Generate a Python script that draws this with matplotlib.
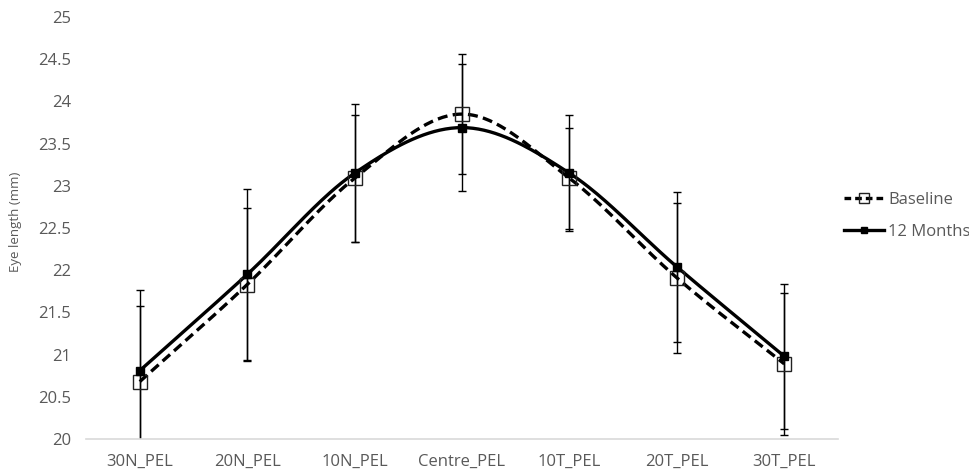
import numpy as np
import matplotlib
matplotlib.use("Agg")
import matplotlib.pyplot as plt
from matplotlib.lines import Line2D

categories = ["30N_PEL", "20N_PEL", "10N_PEL", "Centre_PEL", "10T_PEL", "20T_PEL", "30T_PEL"]
baseline = [20.68, 21.83, 23.09, 23.85, 23.09, 21.91, 20.89]
baseline_sd = [0.90, 0.91, 0.75, 0.71, 0.60, 0.89, 0.84]
months12 = [20.81, 21.95, 23.15, 23.69, 23.15, 22.04, 20.98]
months12_sd = [0.96, 1.01, 0.82, 0.75, 0.69, 0.89, 0.86]


def smooth(x, y, n=40):
    # Excel-style smoothed line (Catmull-Rom through the points)
    x = np.asarray(x, float)
    y = np.asarray(y, float)
    px = np.concatenate([[2 * x[0] - x[1]], x, [2 * x[-1] - x[-2]]])
    py = np.concatenate([[2 * y[0] - y[1]], y, [2 * y[-1] - y[-2]]])
    xs, ys = [], []
    t = np.linspace(0, 1, n)
    for i in range(1, len(px) - 2):
        for arr, out in ((px, xs), (py, ys)):
            p0, p1, p2, p3 = arr[i - 1], arr[i], arr[i + 1], arr[i + 2]
            out.extend(0.5 * ((2 * p1) + (-p0 + p2) * t
                              + (2 * p0 - 5 * p1 + 4 * p2 - p3) * t ** 2
                              + (-p0 + 3 * p1 - 3 * p2 + p3) * t ** 3))
    return np.array(xs), np.array(ys)


plt.rcParams['font.family'] = ['Open Sans', 'DejaVu Sans']
grey = '#595959'

fig = plt.figure(figsize=(9.69, 4.72), dpi=100)
ax = fig.add_axes([0.0888, 0.0699, 0.776, 0.894])

xpos = np.arange(len(categories))

ax.errorbar(xpos, baseline, yerr=baseline_sd, fmt='none', ecolor='black',
            elinewidth=1, capsize=3, capthick=1, zorder=2)
ax.errorbar(xpos, months12, yerr=months12_sd, fmt='none', ecolor='black',
            elinewidth=1, capsize=3, capthick=1, zorder=2)

sx, sy = smooth(xpos, baseline)
ax.plot(sx, sy, color='black', lw=2.4, ls=(0, (3, 1.6)), zorder=3)
ax.plot(xpos, baseline, ls='none', marker='s', ms=10, mfc='none', mec='#222222',
        mew=1, zorder=4)

sx, sy = smooth(xpos, months12)
ax.plot(sx, sy, color='black', lw=2.4, zorder=3)
ax.plot(xpos, months12, ls='none', marker='s', ms=5.5, mfc='black', mec='black', zorder=5)

ax.set_xlim(-0.5, len(categories) - 0.5)
ax.set_ylim(20, 25)
ax.set_yticks(np.arange(20, 25.01, 0.5))
ax.set_yticklabels([f"{v:g}" for v in np.arange(20, 25.01, 0.5)])
ax.set_xticks(xpos)
ax.set_xticklabels(categories)
ax.tick_params(axis='both', length=0, labelsize=12, colors=grey)
ax.tick_params(axis='y', pad=11)
ax.tick_params(axis='x', pad=11)
for s in ['top', 'right', 'left']:
    ax.spines[s].set_visible(False)
ax.spines['bottom'].set_color('#d9d9d9')
ax.spines['bottom'].set_linewidth(1.2)

fig.text(0.016, 0.53, 'Eye length (mm)', rotation=90, ha='center', va='center',
         fontsize=9.5, color=grey)

handles = [
    Line2D([], [], color='black', lw=2.4, ls=(0, (2, 1.2)), marker='s', ms=7,
           mfc='none', mec='#222222', mew=1),
    Line2D([], [], color='black', lw=2.4, marker='s', ms=5, mfc='black'),
]
fig.legend(handles, ['Baseline', '12 Months'], loc='upper left',
           bbox_to_anchor=(0.871, 0.593), frameon=False, fontsize=12,
           labelcolor=grey, handlelength=2.4, handletextpad=0.25, labelspacing=0.95,
           borderaxespad=0, borderpad=0)

fig.savefig('out.png', dpi=100)
